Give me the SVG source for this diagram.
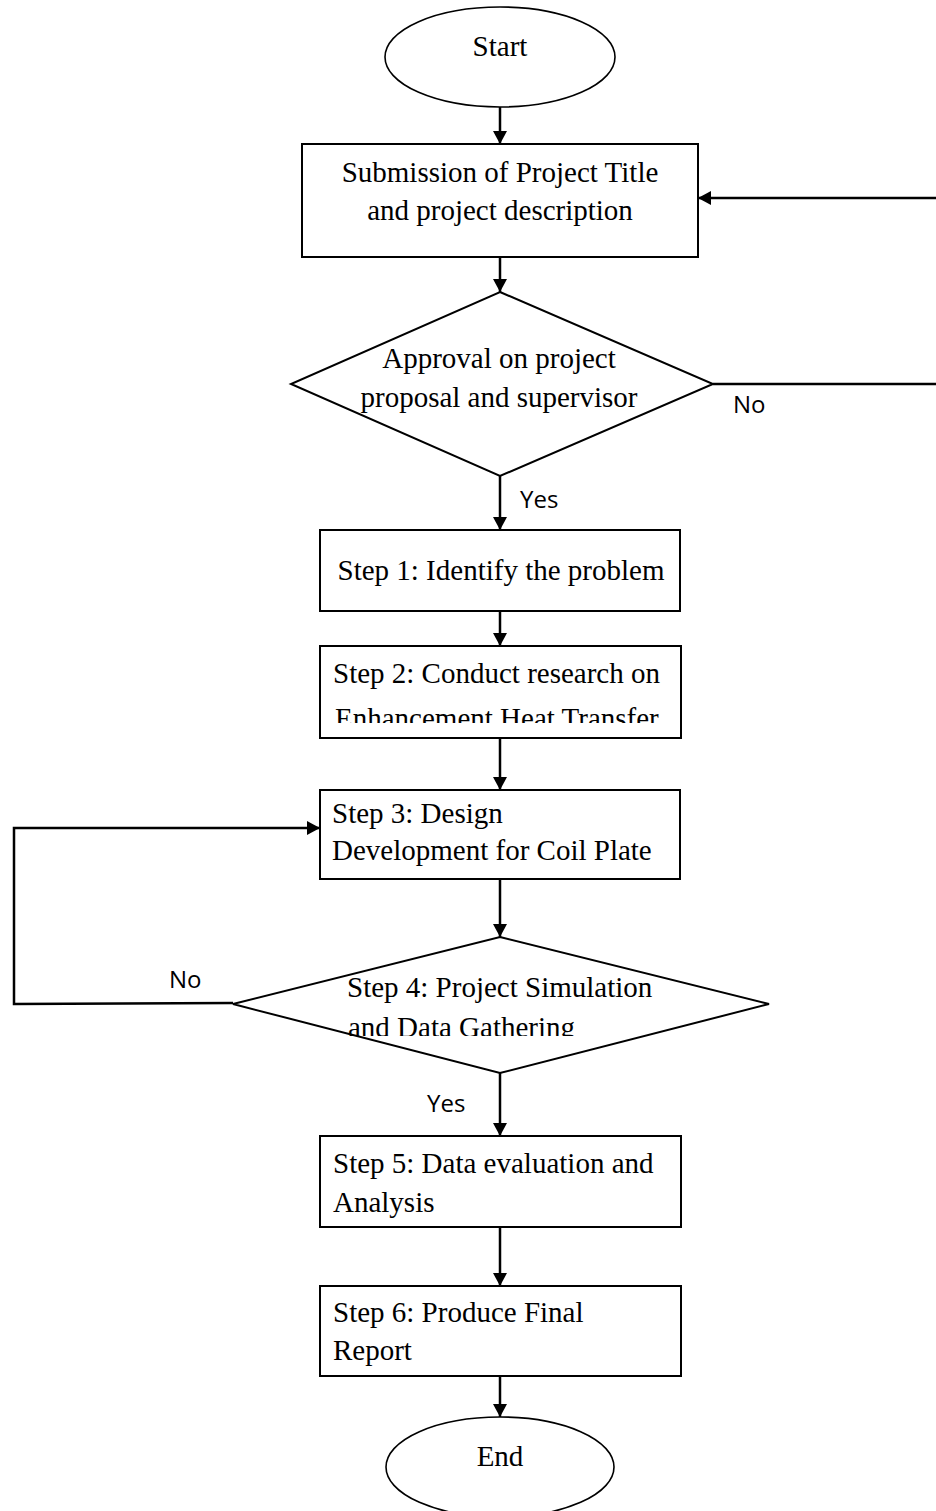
<svg xmlns="http://www.w3.org/2000/svg" width="936" height="1511" viewBox="0 0 936 1511">
<style>
.node{fill:#fff;stroke:#000;stroke-width:2}
.ell{fill:#fff;stroke:#000;stroke-width:1.6}
.t{font-family:"Liberation Serif","Times New Roman",serif;font-size:29px;fill:#000}
.m{text-anchor:middle}
.l{font-family:"Open Sans","Noto Sans",sans-serif;font-size:24px;fill:#000}
.c{fill:none;stroke:#000;stroke-width:2.5}
.a{marker-end:url(#ah)}
</style>
<defs>
<marker id="ah" markerUnits="userSpaceOnUse" markerWidth="14" markerHeight="14" refX="13" refY="7" orient="auto"><path d="M0,0 L13,7 L0,14 Z" fill="#000"/></marker>
<clipPath id="clip2"><rect x="320" y="646" width="361" height="77"/></clipPath>
<clipPath id="clip4"><rect x="300" y="940" width="400" height="96"/></clipPath>
</defs>
<g id="connectors">
<line class="c a" x1="500" y1="107" x2="500" y2="144"/>
<line class="c a" x1="500" y1="257" x2="500" y2="292"/>
<line class="c" x1="713" y1="384" x2="936" y2="384"/>
<line class="c a" x1="936" y1="198" x2="698" y2="198"/>
<line class="c a" x1="500" y1="476" x2="500" y2="530"/>
<line class="c a" x1="500" y1="611" x2="500" y2="646"/>
<line class="c a" x1="500" y1="738" x2="500" y2="790"/>
<line class="c a" x1="500" y1="879" x2="500" y2="937"/>
<polyline class="c a" points="233,1003 14,1004 14,828 320,828"/>
<line class="c a" x1="500" y1="1073" x2="500" y2="1136"/>
<line class="c a" x1="500" y1="1227" x2="500" y2="1286"/>
<line class="c a" x1="500" y1="1376" x2="500" y2="1417"/>
<text class="l" x="733" y="413">No</text>
<text class="l" x="520" y="508">Yes</text>
<text class="l" x="169" y="988">No</text>
<text class="l" x="427" y="1112">Yes</text>
</g>
<g id="start">
<ellipse class="ell" cx="500" cy="57" rx="115" ry="50"/>
<text class="t m" x="500" y="56">Start</text>
</g>
<g id="submission">
<rect class="node" x="302" y="144" width="396" height="113"/>
<text class="t m" x="500" y="182">Submission of Project Title</text>
<text class="t m" x="500" y="220">and project description</text>
</g>
<g id="approval">
<polygon class="node" points="500,292 713,384 500,476 291,384"/>
<text class="t m" x="499" y="368">Approval on project</text>
<text class="t m" x="499" y="407">proposal and supervisor</text>
</g>
<g id="step1">
<rect class="node" x="320" y="530" width="360" height="81"/>
<text class="t m" x="501" y="580">Step 1: Identify the problem</text>
</g>
<g id="step2">
<rect class="node" x="320" y="646" width="361" height="92"/>
<text class="t" x="333" y="683">Step 2: Conduct research on</text>
<text class="t" x="335" y="728" clip-path="url(#clip2)">Enhancement Heat Transfer</text>
</g>
<g id="step3">
<rect class="node" x="320" y="790" width="360" height="89"/>
<text class="t" x="332" y="823">Step 3: Design</text>
<text class="t" x="332" y="860">Development for Coil Plate</text>
</g>
<g id="step4">
<polygon class="node" points="500,937 769,1004 500,1073 233,1004"/>
<text class="t" x="347" y="997">Step 4: Project Simulation</text>
<text class="t" x="348" y="1037" clip-path="url(#clip4)">and Data Gathering</text>
</g>
<g id="step5">
<rect class="node" x="320" y="1136" width="361" height="91"/>
<text class="t" x="333" y="1173">Step 5: Data evaluation and</text>
<text class="t" x="333" y="1212">Analysis</text>
</g>
<g id="step6">
<rect class="node" x="320" y="1286" width="361" height="90"/>
<text class="t" x="333" y="1322">Step 6: Produce Final</text>
<text class="t" x="333" y="1360">Report</text>
</g>
<g id="end">
<ellipse class="ell" cx="500" cy="1467" rx="114" ry="50"/>
<text class="t m" x="500" y="1466">End</text>
</g>
</svg>
